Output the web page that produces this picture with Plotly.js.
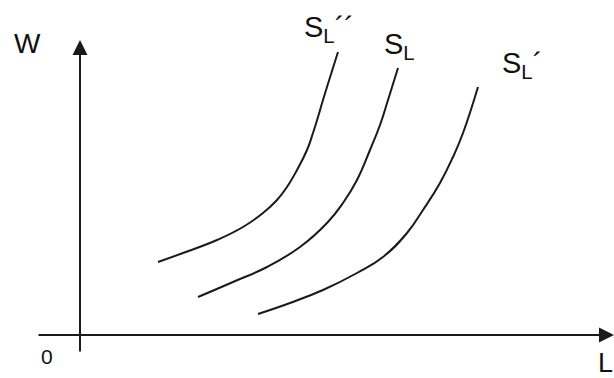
<!DOCTYPE html>
<html>
<head>
<meta charset="utf-8">
<script src="https://cdn.plot.ly/plotly-3.0.1.min.js"></script>
<style>html,body{margin:0;padding:0;background:#fff;}#chart{width:614px;height:378px;}</style>
</head>
<body>
<div id="chart"></div>
<script>
// Labour supply curves (L = labour, W = wage)
const seriesNames = ["S<sub>L</sub>´´", "S<sub>L</sub>", "S<sub>L</sub>´"];

const L_SLpp = [7.8, 10.3, 13.7, 16.3, 18.3, 19.7, 20.7, 21.7, 22.7, 23.3, 23.8, 24.3, 25.8];
const W_SLpp = [7.3, 8.2, 9.5, 10.8, 12.2, 13.5, 14.8, 16.5, 18.5, 20.2, 21.8, 23.5, 28.3];

const L_SL = [11.8, 15.3, 18.7, 22.0, 24.7, 26.3, 27.7, 29.0, 30.0, 30.8, 31.8];
const W_SL = [3.8, 5.3, 6.8, 8.8, 11.2, 13.2, 15.5, 18.5, 21.0, 23.5, 26.7];

const L_SLp = [17.8, 21.0, 24.3, 27.7, 30.3, 32.7, 34.3, 36.0, 37.3, 38.3, 39.8];
const W_SLp = [2.1, 3.2, 4.5, 6.2, 7.8, 10.2, 12.5, 15.2, 17.8, 20.2, 24.8];

const axisLabels = {x: "L", y: "W", origin: "0"};

const lineStyle = {color: "#1a1a1a", width: 2, shape: "spline", smoothing: 1.3};
const traces = [
  {x: L_SLpp, y: W_SLpp, name: seriesNames[0]},
  {x: L_SL, y: W_SL, name: seriesNames[1]},
  {x: L_SLp, y: W_SLp, name: seriesNames[2]}
].map(t => Object.assign(t, {type: "scatter", mode: "lines", line: lineStyle, hoverinfo: "skip"}));

const font = "'Liberation Sans', Arial, sans-serif";
const ink = "#111";

const annotations = [
  // x axis arrow
  {x: 53.4, y: 0, ax: -4.3, ay: 0, axref: "x", ayref: "y", xref: "x", yref: "y",
   text: "", showarrow: true, arrowhead: 2, arrowsize: 1.5, arrowwidth: 2, arrowcolor: "#1a1a1a", standoff: 0},
  // y axis arrow
  {x: 0, y: 29.5, ax: 0, ay: -1.8, axref: "x", ayref: "y", xref: "x", yref: "y",
   text: "", showarrow: true, arrowhead: 2, arrowsize: 1.5, arrowwidth: 2, arrowcolor: "#1a1a1a", standoff: 0},
  {x: -5.3, y: 29.2, xref: "x", yref: "y", text: axisLabels.y, showarrow: false,
   xanchor: "center", yanchor: "middle", font: {family: font, size: 28, color: ink}},
  {x: -3.3, y: -2.1, xref: "x", yref: "y", text: axisLabels.origin, showarrow: false,
   xanchor: "center", yanchor: "middle", font: {family: font, size: 21, color: ink}},
  {x: 52.5, y: -2.8, xref: "x", yref: "y", text: axisLabels.x, showarrow: false,
   xanchor: "center", yanchor: "middle", font: {family: font, size: 27, color: ink}},
  {x: 22.2, y: 30.6, xref: "x", yref: "y", text: seriesNames[0], showarrow: false,
   xanchor: "left", yanchor: "middle", font: {family: font, size: 29, color: ink}},
  {x: 30.2, y: 28.9, xref: "x", yref: "y", text: seriesNames[1], showarrow: false,
   xanchor: "left", yanchor: "middle", font: {family: font, size: 29, color: ink}},
  {x: 42.0, y: 27.0, xref: "x", yref: "y", text: seriesNames[2], showarrow: false,
   xanchor: "left", yanchor: "middle", font: {family: font, size: 29, color: ink}}
];

const layout = {
  width: 614, height: 378,
  margin: {l: 0, r: 0, t: 0, b: 0},
  paper_bgcolor: "#fff", plot_bgcolor: "#fff",
  showlegend: false,
  xaxis: {range: [-8, 53.4], visible: false, fixedrange: true},
  yaxis: {range: [-4.3, 33.5], visible: false, fixedrange: true},
  annotations: annotations
};

Plotly.newPlot("chart", traces, layout, {staticPlot: true, displayModeBar: false});
</script>
</body>
</html>
